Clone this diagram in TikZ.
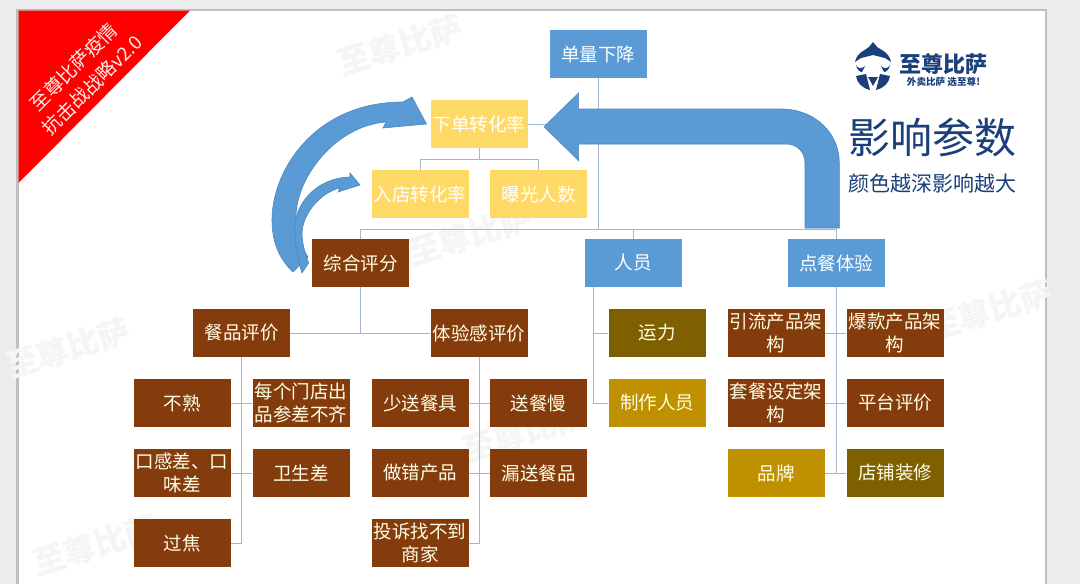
\documentclass[tikz,border=0pt]{standalone}
\usepackage{fontspec}
\setmainfont{Noto Sans CJK SC}
\usepackage{xcolor}
\usetikzlibrary{positioning}
\definecolor{slideblue}{HTML}{5B9BD5}
\definecolor{arrowedge}{HTML}{4A86BE}
\definecolor{softyellow}{HTML}{FFD966}
\definecolor{darkbrown}{HTML}{843C0C}
\definecolor{darkolive}{HTML}{7F6000}
\definecolor{darkgold}{HTML}{BF9000}
\definecolor{treeline}{HTML}{A3B6CC}
\definecolor{logoblue}{HTML}{1A3F7A}
\definecolor{markgray}{HTML}{F5F5F5}
\begin{document}
\begin{tikzpicture}[x=1pt, y=1pt, node distance=70pt]
    % Define styles
    \tikzstyle{block} = [rectangle, minimum width=97pt, minimum height=48pt, inner sep=0pt, align=center, font=\fontsize{18.5}{23}\selectfont]
    \tikzstyle{blueblock} = [block, fill=slideblue, text=white]
    \tikzstyle{yellowblock} = [block, fill=softyellow, text=white]
    \tikzstyle{brownblock} = [block, fill=darkbrown, text=white!90!yellow]
    \tikzstyle{oliveblock} = [block, fill=darkolive, text=white!90!yellow]
    \tikzstyle{goldblock} = [block, fill=darkgold, text=white!90!yellow]
    \tikzstyle{line} = [draw=treeline, line width=1pt]
    \tikzstyle{blockarrow} = [fill=slideblue, draw=arrowedge, line width=0.6pt]
    \tikzstyle{watermark} = [text=markgray, font=\fontsize{32}{32}\selectfont\bfseries, rotate=17]

    % Slide and page
    \fill [gray!15] (0,0) rectangle (1080,-584);
    \fill [gray!50] (16,-8.5) rectangle (1047,-584);
    \fill [white] (18.5,-10.5) rectangle (1045,-584);
    \useasboundingbox (0,0) rectangle (1080,-584);

    % Watermarks
    \node [watermark] (markone) at (400,-45) {至尊比萨};
    \node [watermark] (marktwo) at (470,-235) {至尊比萨};
    \node [watermark] (markthree) at (68,-348) {至尊比萨};
    \node [watermark] (markfour) at (990,-310) {至尊比萨};
    \node [watermark] (markfive) at (95,-545) {至尊比萨};
    \node [watermark] (marksix) at (525,-432) {至尊比萨};

    % Place nodes
    \node [blueblock] (drop) at (598,-54) {单量下降};
    \node [yellowblock] (order) at (479,-124) {下单转化率};
    \node [yellowblock] (entry) at (420,-194) {入店转化率};
    \node [yellowblock, right of=entry, node distance=118.5pt] (expose) {曝光人数};
    \node [brownblock] (score) at (360.5,-263) {综合评分};
    \node [blueblock, right of=score, node distance=272.5pt] (staff) {人员};
    \node [blueblock, right of=staff, node distance=203pt] (ordering) {点餐体验};

    \node [brownblock] (food) at (241.5,-333) {餐品评价};
    \node [brownblock, right of=food, node distance=237.5pt] (feel) {体验感评价};

    \node [brownblock] (unripe) at (182,-403) {不熟};
    \node [brownblock, right of=unripe, node distance=119pt] (uneven) {每个门店出\\品参差不齐};
    \node [brownblock, below of=unripe] (taste) {口感差、口\\味差};
    \node [brownblock, below of=uneven] (hygiene) {卫生差};
    \node [brownblock, below of=taste] (burnt) {过焦};

    \node [brownblock] (cutlery) at (420,-403) {少送餐具};
    \node [brownblock, right of=cutlery, node distance=118.5pt] (late) {送餐慢};
    \node [brownblock, below of=cutlery] (wrong) {做错产品};
    \node [brownblock, below of=late] (missing) {漏送餐品};
    \node [brownblock, below of=wrong] (complaint) {投诉找不到\\商家};

    \node [oliveblock] (transport) at (657,-333) {运力};
    \node [goldblock, below of=transport] (cooks) {制作人员};

    \node [brownblock] (traffic) at (776,-333) {引流产品架\\构};
    \node [brownblock, right of=traffic, node distance=119pt] (hot) {爆款产品架\\构};
    \node [brownblock, below of=traffic] (combo) {套餐设定架\\构};
    \node [brownblock, below of=hot] (rating) {平台评价};
    \node [goldblock, below of=combo] (brand) {品牌};
    \node [oliveblock, below of=rating] (decor) {店铺装修};

    % Joints of the tree
    \coordinate (bus) at (598,-229);
    \coordinate (orderbus) at (479,-159);
    \coordinate (scorejoin) at (score |- food);
    \coordinate (stafftop) at (593,-287);
    \coordinate (orderingend) at (ordering |- decor);

    % Draw edges
    \path [line] (drop) -- (bus);
    \path [line] (bus) -| (score);
    \path [line] (bus) -| (staff);
    \path [line] (bus) -| (ordering);
    \path [line] (order) -- (order -| drop);
    \path [line] (order) -- (orderbus);
    \path [line] (orderbus) -| (entry);
    \path [line] (orderbus) -| (expose);
    \path [line] (score) -- (scorejoin);
    \path [line] (food) -- (feel);
    \path [line] (food) |- (burnt);
    \path [line] (unripe) -- (uneven);
    \path [line] (taste) -- (hygiene);
    \path [line] (feel) |- (complaint);
    \path [line] (cutlery) -- (late);
    \path [line] (wrong) -- (missing);
    \path [line] (stafftop) |- (transport);
    \path [line] (stafftop) |- (cooks);
    \path [line] (ordering) -- (orderingend);
    \path [line] (traffic) -- (hot);
    \path [line] (combo) -- (rating);
    \path [line] (brand) -- (decor);

    % Block arrows
    \path [blockarrow] (544,-126.7) -- (578.6,-93) -- (578.6,-109) -- (781,-109)
        .. controls (815,-109) and (839.3,-133) .. (839.3,-163) -- (839.3,-228) -- (805,-228) -- (805,-163)
        .. controls (805,-152) and (797,-144) .. (786.5,-144) -- (578.6,-144) -- (578.6,-160.7) -- cycle;
    \path [blockarrow] (293,-272) .. controls (278,-258) and (272,-240) .. (272,-220)
        .. controls (272,-170) and (315,-102) .. (403,-102) -- (412,-97) -- (426.5,-124) -- (383,-128) -- (386,-122)
        .. controls (335,-126) and (296,-178) .. (296,-217)
        .. controls (296,-232) and (300,-245) .. (308,-257) -- cycle;
    \path [blockarrow] (302,-273) .. controls (297,-258) and (295,-242) .. (295,-227)
        .. controls (295,-205) and (315,-178) .. (350,-177) -- (350,-173) -- (360,-185) -- (338,-192) -- (340,-188)
        .. controls (322,-192) and (303,-212) .. (302,-233)
        .. controls (302,-243) and (305,-253) .. (308.6,-263) -- cycle;

    % Corner banner
    \fill [red] (18.5,-10.5) -- (190,-10.5) -- (18.5,-183) -- cycle;
    \node [text=white!92!red, rotate=45, align=center, font=\fontsize{19}{26}\selectfont] (banner) at (83,-76) {至尊比萨疫情\\抗击战战略v2.0};

    % Logo and title
    \fill [logoblue] (855,-62) .. controls (857,-52) and (866,-50) .. (869,-47) -- (873,-42) -- (877,-47)
        .. controls (881,-50) and (889,-52) .. (891,-62) -- (885,-58) -- (873,-55) -- (861,-58) -- cycle;
    \fill [logoblue] (856,-65) .. controls (858,-69) and (862,-69) .. (865,-66) -- (862,-72) .. controls (860,-72) and (857,-70) .. (856,-65) -- cycle;
    \fill [logoblue] (890,-65) .. controls (888,-69) and (884,-69) .. (881,-66) -- (884,-72) .. controls (886,-72) and (889,-70) .. (890,-65) -- cycle;
    \fill [logoblue] (856,-76) -- (866,-74) -- (870,-90) .. controls (862,-88) and (857,-83) .. (856,-76) -- cycle;
    \fill [logoblue] (890,-76) -- (880,-74) -- (876,-90) .. controls (884,-88) and (889,-83) .. (890,-76) -- cycle;
    \fill [logoblue] (868,-77) -- (878,-77) -- (873,-86) -- cycle;
    \node [text=logoblue, font=\fontsize{22}{22}\selectfont\bfseries] (logoname) at (943.5,-64) {至尊比萨};
    \node [text=logoblue, font=\fontsize{9.6}{10}\selectfont\bfseries] (logoslogan) at (943.5,-82) {外卖比萨 选至尊!};
    \node [text=logoblue, font=\fontsize{42}{42}\selectfont] (title) at (932,-137) {影响参数};
    \node [text=logoblue, font=\fontsize{21}{21}\selectfont, below=10pt of title.south] (subtitle) {颜色越深影响越大};
\end{tikzpicture}
\end{document}
